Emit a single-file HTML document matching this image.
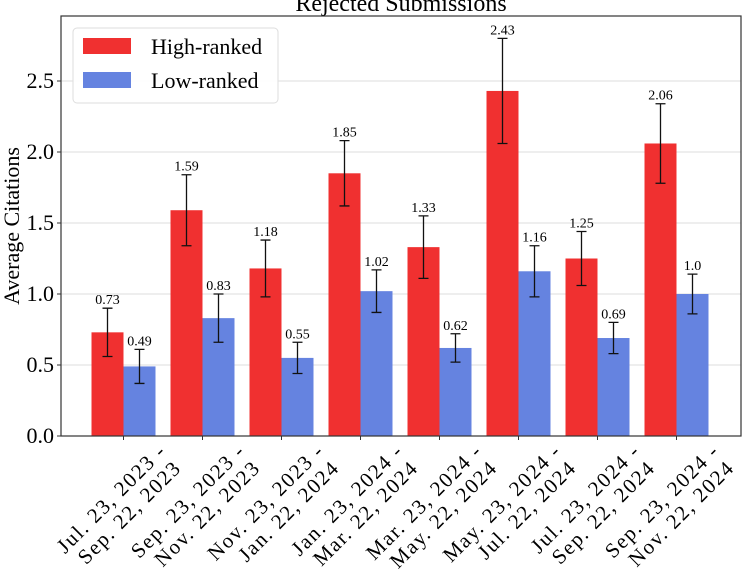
<!DOCTYPE html>
<html><head><meta charset="utf-8"><style>
body{margin:0;background:#fff;}
svg{display:block;font-family:"Liberation Serif","DejaVu Serif",serif;}
</style></head><body>
<svg id="chart" width="752" height="583">
<text x="401" y="11" font-size="24" text-anchor="middle">Rejected Submissions</text>
<g id="grid"></g>
<g id="bars"></g>
<rect x="61" y="16" width="680" height="420" fill="none" stroke="#333" stroke-width="1.2"/>
<text transform="translate(19,226) rotate(-90)" font-size="22" text-anchor="middle">Average Citations</text>
<g>
<rect x="73" y="28" width="205" height="75" rx="4" fill="#fff" fill-opacity="0.9" stroke="#ddd"/>
<rect x="83" y="38" width="48" height="16" fill="#f03030"/>
<text x="151" y="54" font-size="22">High-ranked</text>
<rect x="83" y="72" width="48" height="16" fill="#6583e0"/>
<text x="151" y="88" font-size="22">Low-ranked</text>
</g>
</svg>
<script>
const line1 = ["Jul. 23, 2023 -","Sep. 23, 2023 -","Nov. 23, 2023 -","Jan. 23, 2024 -","Mar. 23, 2024 -","May. 23, 2024 -","Jul. 23, 2024 -","Sep. 23, 2024 -"];
const line2 = ["Sep. 22, 2023","Nov. 22, 2023","Jan. 22, 2024","Mar. 22, 2024","May. 22, 2024","Jul. 22, 2024","Sep. 22, 2024","Nov. 22, 2024"];
const highVals = [0.73,1.59,1.18,1.85,1.33,2.43,1.25,2.06];
const highErr = [0.17,0.25,0.20,0.23,0.22,0.37,0.19,0.28];
const highLabels = ["0.73","1.59","1.18","1.85","1.33","2.43","1.25","2.06"];
const lowVals = [0.49,0.83,0.55,1.02,0.62,1.16,0.69,1.00];
const lowErr = [0.12,0.17,0.11,0.15,0.10,0.18,0.11,0.14];
const lowLabels = ["0.49","0.83","0.55","1.02","0.62","1.16","0.69","1.0"];
const yTicks = [0,0.5,1.0,1.5,2.0,2.5];
const yTickLabels = ["0.0","0.5","1.0","1.5","2.0","2.5"];

const NS="http://www.w3.org/2000/svg";
const svg=document.getElementById('chart');
const grid=document.getElementById('grid');
const bars=document.getElementById('bars');
const y=v=>436-v*142;
const xc=i=>123.5+i*79;
const bw=32;
function mk(tag,attrs,parent){const e=document.createElementNS(NS,tag);for(const k in attrs)e.setAttribute(k,attrs[k]);parent.appendChild(e);return e;}
yTicks.forEach((t,i)=>{
  if(t>0){const g=mk('line',{x1:61,x2:741,y1:y(t),y2:y(t),stroke:'#ddd','stroke-width':1},grid);
  
  }
  const tk=mk('line',{x1:57,x2:61,y1:y(t),y2:y(t),stroke:'#333'},grid);
  
  
  const tx=mk('text',{x:54,y:y(t)+7,'font-size':22,'text-anchor':'end'},grid);
  tx.textContent=yTickLabels[i];
  
  
});
function drawBar(x0,v,err,lab,color,name){
  const r=mk('rect',{x:x0,y:y(v),width:bw,height:y(0)-y(v),fill:color},bars);
  
  
  const cx=x0+bw/2;
  const e=mk('path',{d:`M${cx},${y(v+err)}V${y(v-err)}M${cx-5},${y(v+err)}H${cx+5}M${cx-5},${y(v-err)}H${cx+5}`,stroke:'#111','stroke-width':1.3,fill:'none'},bars);
  
  
  const t=mk('text',{x:cx,y:y(v+err)-4,'font-size':14,'text-anchor':'middle'},bars);
  t.textContent=lab;
  
  
}
highVals.forEach((v,i)=>{
  drawBar(xc(i)-bw,v,highErr[i],highLabels[i],'#f03030','bar-high-'+(i+1));
  drawBar(xc(i),lowVals[i],lowErr[i],lowLabels[i],'#6583e0','bar-low-'+(i+1));
  const tk=mk('line',{x1:xc(i),x2:xc(i),y1:436,y2:440,stroke:'#333'},bars);
  
  
  const a=mk('text',{'font-size':21,'letter-spacing':1.6,'text-anchor':'end',transform:`translate(${xc(i)+44},452) rotate(-45)`},bars);
  a.textContent=line1[i];
  
  
  const b=mk('text',{'font-size':21,'letter-spacing':1.6,'text-anchor':'end',transform:`translate(${xc(i)+59},469) rotate(-45)`},bars);
  b.textContent=line2[i];
  
  
});
</script>
</body></html>
